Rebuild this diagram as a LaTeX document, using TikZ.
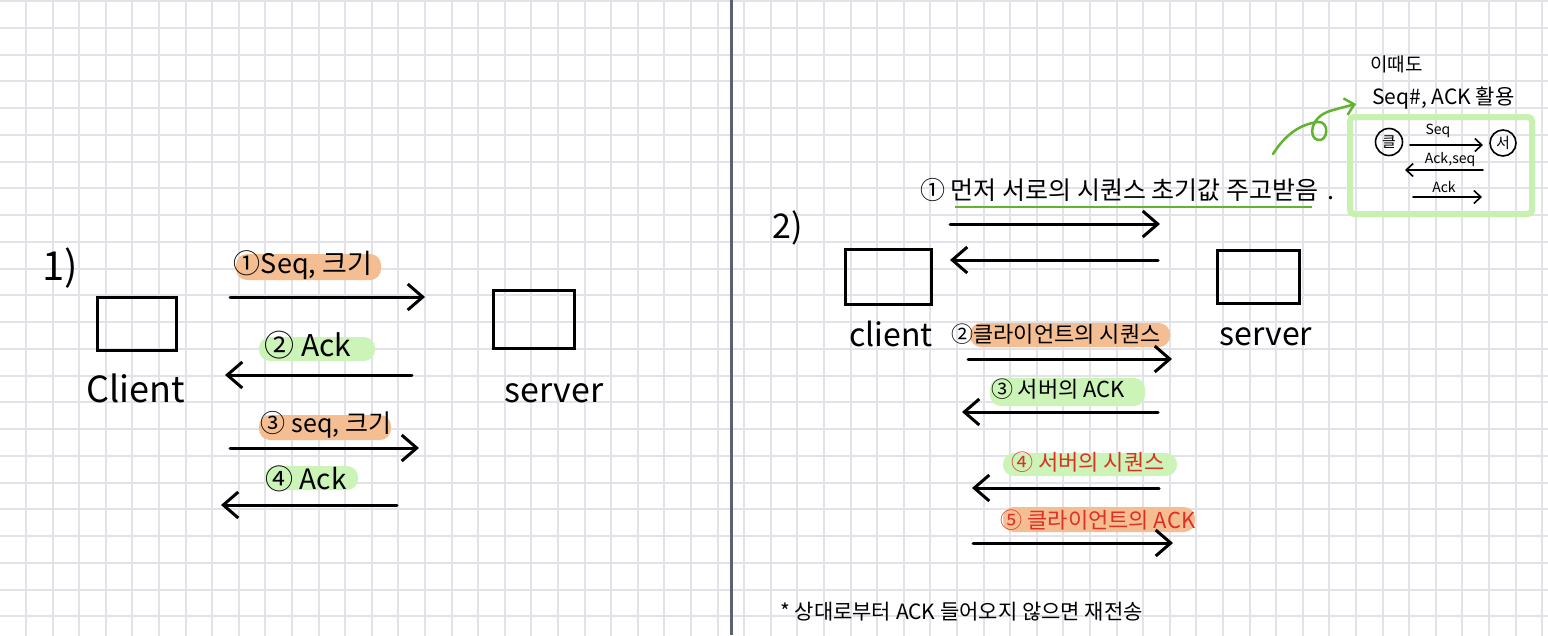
\documentclass[tikz,border=0pt]{standalone}
\usepackage{fontspec}
\setmainfont{Noto Sans CJK KR}
\usetikzlibrary{arrows.meta}

\newcommand{\txtsize}[1]{\fontsize{#1}{#1}\selectfont}

\begin{document}
\begin{tikzpicture}[x=1pt, y=-1pt,
    handarrow/.style={line width=3pt, line cap=round, line join=round, -{Straight Barb[length=15pt,width=26pt]}},
    smallarrow/.style={line width=1.6pt, line cap=round, line join=round, -{Straight Barb[length=7pt,width=13pt]}},
    peerbox/.style={draw=black, line width=3pt},
    lbl/.style={inner sep=0pt},
    hl/.style={rounded corners=11pt}]
    % Define the colors
    \definecolor{gridcolor}{RGB}{226, 226, 232}
    \definecolor{dividercolor}{RGB}{92, 96, 112}
    \definecolor{orangehl}{RGB}{244, 190, 146}
    \definecolor{greenhl}{RGB}{204, 243, 184}
    \definecolor{penred}{RGB}{222, 48, 36}
    \definecolor{pengreen}{RGB}{98, 180, 48}
    \definecolor{framegreen}{RGB}{200, 240, 176}

    % Paper and grid
    \fill[white] (0,0) rectangle (1548,635);
    \useasboundingbox (0,0) rectangle (1548,635);
    \draw[gridcolor, line width=2pt, xstep=26.6pt, ystep=26.75pt, shift={(-0.6,1)}] (0.6,-1) grid (1548.6,636);
    \draw[dividercolor, line width=3pt] (731,0) -- (731,635);

    % ---------------- 1) ----------------
    \node[lbl, font=\txtsize{40}] (one) at (60,268) {1)};

    % Draw the client and server boxes
    \draw[peerbox] (97,297) rectangle (176,350);
    \node[lbl, font=\txtsize{36}] (clientL) at (136,388) {Client};
    \draw[peerbox] (493,290) rectangle (574,348);
    \node[lbl, font=\txtsize{34}] (serverL) at (554,393) {server};

    % Highlights
    \fill[orangehl, hl] (236,254) rectangle (381,280);
    \fill[greenhl, hl] (259,337) rectangle (375,361);
    \fill[orangehl, hl] (259,415) rectangle (391,440);
    \fill[greenhl, hl] (265,466) rectangle (358,490);

    % Labels
    \node[lbl, font=\txtsize{27}] (seqA) at (303,265) {①Seq, 크기};
    \node[lbl, font=\txtsize{30}] (ackA) at (308,345) {② Ack};
    \node[lbl, font=\txtsize{25}] (seqB) at (326,425) {③ seq, 크기};
    \node[lbl, font=\txtsize{28}] (ackB) at (306,479) {④ Ack};

    % Arrows
    \coordinate (l1s) at (230,297);
    \coordinate (l1e) at (425,297);
    \coordinate (l2s) at (412,375);
    \coordinate (l2e) at (225,375);
    \coordinate (l3s) at (230,448);
    \coordinate (l3e) at (419,448);
    \coordinate (l4s) at (397,505);
    \coordinate (l4e) at (221,505);
    \draw[handarrow] (l1s) -- (l1e);
    \draw[handarrow] (l2s) -- (l2e);
    \draw[handarrow] (l3s) -- (l3e);
    \draw[handarrow] (l4s) -- (l4e);

    % ---------------- 2) ----------------
    \node[lbl, font=\txtsize{34}] (two) at (788,228) {2)};

    % Draw the client and server boxes
    \draw[peerbox] (845,249) rectangle (931,304);
    \node[lbl, font=\txtsize{32}] (clientR) at (891,334) {client};
    \draw[peerbox] (1217,250) rectangle (1299,303);
    \node[lbl, font=\txtsize{32}] (serverR) at (1266,337) {server};

    % Step 1 with underline
    \node[lbl, font=\txtsize{25}, anchor=west] (init) at (920,190) {① 먼저 서로의 시퀀스 초기값 주고받음 \,.};
    \draw[pengreen, line width=2.5pt] (955,207) -- (1312,207);
    \coordinate (r1s) at (950,224);
    \coordinate (r1e) at (1160,224);
    \coordinate (r2s) at (1158,260);
    \coordinate (r2e) at (950,260);
    \draw[handarrow] (r1s) -- (r1e);
    \draw[handarrow] (r2s) -- (r2e);

    % Highlights
    \fill[orangehl, hl] (970,323) rectangle (1170,347);
    \fill[greenhl, hl] (990,378) rectangle (1145,406);
    \fill[greenhl, hl] (1003,453) rectangle (1177,476);
    \fill[orangehl, hl] (1003,507) rectangle (1195,532);

    % Labels
    \node[lbl, font=\txtsize{22}] (cseq) at (1056,334) {②클라이언트의 시퀀스};
    \node[lbl, font=\txtsize{22}] (sack) at (1058,389) {③ 서버의 ACK};
    \node[lbl, font=\txtsize{22}, text=penred] (sseq) at (1088,462) {④ 서버의 시퀀스};
    \node[lbl, font=\txtsize{22}, text=penred] (cack) at (1098,520) {⑤ 클라이언트의 ACK};

    % Arrows
    \coordinate (r3s) at (968,359);
    \coordinate (r3e) at (1172,359);
    \coordinate (r4s) at (1158,412);
    \coordinate (r4e) at (962,412);
    \coordinate (r5s) at (1159,488);
    \coordinate (r5e) at (972,488);
    \coordinate (r6s) at (973,543);
    \coordinate (r6e) at (1173,543);
    \draw[handarrow] (r3s) -- (r3e);
    \draw[handarrow] (r4s) -- (r4e);
    \draw[handarrow] (r5s) -- (r5e);
    \draw[handarrow] (r6s) -- (r6e);

    % Note
    \node[lbl, font=\txtsize{21}, anchor=west] (note) at (780,612) {* 상대로부터 ACK 들어오지 않으면 재전송};

    % ---------------- side note ----------------
    \node[lbl, font=\txtsize{19}, anchor=west] (also) at (1370,64) {이때도};
    \node[lbl, font=\txtsize{21}, anchor=west] (use) at (1372,98) {Seq\#, ACK 활용};
    \draw[framegreen, line width=6pt, rounded corners=4pt] (1350,117) rectangle (1532,214);
    \node[lbl, draw, circle, line width=1.6pt, minimum size=27pt, font=\txtsize{15}] (cl) at (1389,142) {클};
    \node[lbl, draw, circle, line width=1.6pt, minimum size=26pt, font=\txtsize{15}] (sv) at (1503,143) {서};
    \coordinate (b1s) at (1410,145);
    \coordinate (b1e) at (1483,145);
    \coordinate (b2s) at (1483,170);
    \coordinate (b2e) at (1405,170);
    \coordinate (b3s) at (1413,197);
    \coordinate (b3e) at (1482,197);
    \draw[smallarrow] (b1s) -- (b1e);
    \draw[smallarrow] (b2s) -- (b2e);
    \draw[smallarrow] (b3s) -- (b3e);
    \node[lbl, font=\txtsize{14}] (bseq) at (1438,131) {Seq};
    \node[lbl, font=\txtsize{14}] (backseq) at (1450,160) {Ack,seq};
    \node[lbl, font=\txtsize{14}] (back) at (1444,187) {Ack};

    % Curly pointer to the side note
    \coordinate (curlS) at (1273,154);
    \coordinate (curlE) at (1356,104);
    \draw[pengreen, line width=2.5pt, line cap=round, -{Straight Barb[length=9pt,width=17pt]}]
        (curlS) .. controls (1285,135) and (1300,124) .. (1318,122)
        .. controls (1330,121) and (1328,142) .. (1318,140)
        .. controls (1308,138) and (1310,117) .. (1330,111)
        .. controls (1340,108) and (1348,106) .. (curlE);
\end{tikzpicture}
\end{document}
